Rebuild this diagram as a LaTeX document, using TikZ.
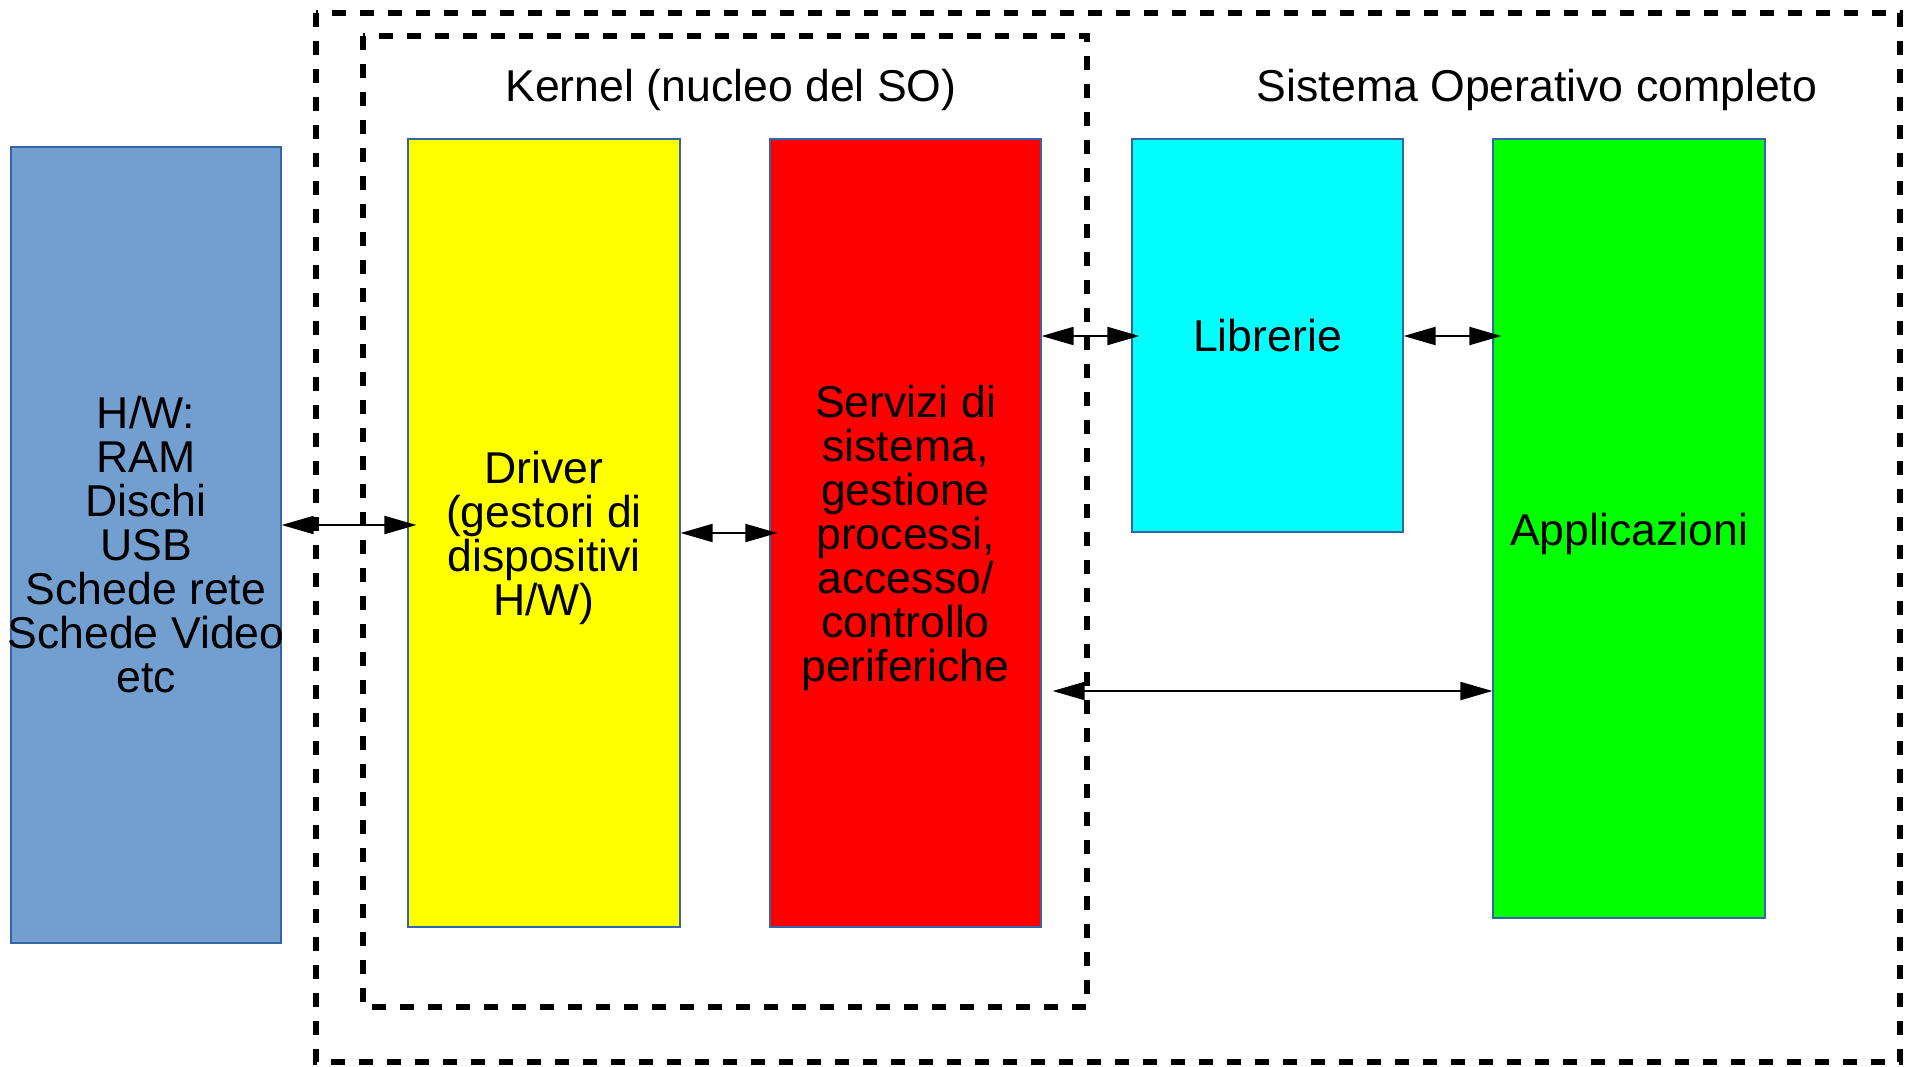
\documentclass[tikz,border=0pt]{standalone}
\usepackage{fontspec}
\setmainfont{Liberation Sans}
\usetikzlibrary{arrows.meta}
\definecolor{hwblue}{HTML}{729FCF}
\definecolor{edgeblue}{HTML}{3465A4}
\definecolor{pyellow}{RGB}{255,255,0}
\definecolor{pred}{RGB}{255,0,0}
\definecolor{pcyan}{RGB}{0,255,255}
\definecolor{pgreen}{RGB}{0,255,0}
\begin{document}
\begin{tikzpicture}[x=0.5pt,y=-0.5pt,
  box/.style={draw=edgeblue, line width=0.6pt, inner sep=0pt},
  lbl/.style={inner sep=0pt, align=center, font=\fontsize{22.3}{22}\selectfont},
  frame/.style={draw=black, line width=3pt, dash pattern=on 7pt off 7pt},
  arr/.style={line width=1pt, {Triangle[length=16pt,width=9pt]}-{Triangle[length=16pt,width=9pt]}},
  title/.style={font=\fontsize{22.3}{22}\selectfont, inner sep=0pt}]
\useasboundingbox (0,0) rectangle (1910,1066);
% frames
\draw[frame] (316,13) rectangle (1900,1062);
\draw[frame] (363,36) rectangle (1087,1007);
\node[title] (ktitle) at (731,90) {Kernel (nucleo del SO)};
\node[title] (stitle) at (1537,90) {Sistema Operativo completo};
% boxes
\node[box, fill=hwblue, minimum width=135pt, minimum height=398pt] (hw) at (146,545) {};
\node[box, fill=pyellow, minimum width=136pt, minimum height=394pt] (drv) at (544,533) {};
\node[box, fill=pred, minimum width=135.5pt, minimum height=394pt] (srv) at (905.5,533) {};
\node[box, fill=pcyan, minimum width=135.5pt, minimum height=196.5pt] (lib) at (1267.5,335.5) {};
\node[box, fill=pgreen, minimum width=136pt, minimum height=389.5pt] (app) at (1629,528.5) {};
% labels
\node[lbl] (hwt) at (hw.center) {H/W:\\RAM\\Dischi\\USB\\Schede rete\\Schede Video\\etc};
\node[lbl] (drvt) at ([yshift=-2.5pt]drv.center) {Driver\\(gestori di\\dispositivi\\H/W)};
\node[lbl] (srvt) at ([yshift=-2.5pt]srv.center) {Servizi di\\sistema,\\gestione\\processi,\\accesso/\\controllo\\periferiche};
\node[lbl] (libt) at (lib.center) {Librerie};
\node[lbl] (appt) at ([yshift=-2.5pt]app.center) {Applicazioni};
% arrows
\coordinate (ya) at (0,525);
\coordinate (yb) at (0,533);
\coordinate (yc) at (0,336);
\coordinate (yd) at (0,691);
\draw[arr, shorten >=-4.5pt] (hw.east |- ya) -- (drv.west |- ya);
\draw[arr, shorten >=-4pt] (drv.east |- yb) -- (srv.west |- yb);
\draw[arr, shorten >=-4pt] (srv.east |- yc) -- (lib.west |- yc);
\draw[arr, shorten >=-4.5pt] (lib.east |- yc) -- (app.west |- yc);
\draw[arr, shorten <=5.5pt] (srv.east |- yd) -- (app.west |- yd);
\end{tikzpicture}
\end{document}
